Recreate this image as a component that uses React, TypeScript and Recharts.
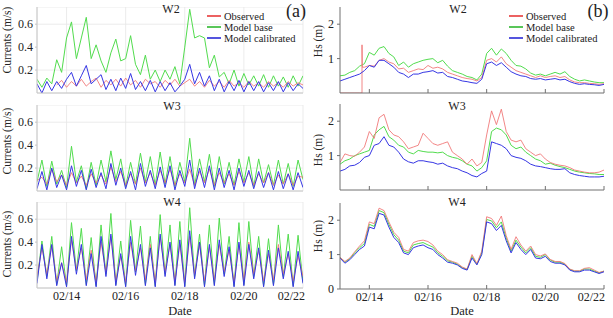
import { LineChart, Line, XAxis, YAxis, CartesianGrid } from "recharts";

const FONT = '"Liberation Serif", "DejaVu Serif", serif';

// samples every 4 hours, 02/13 00:00 -> 02/22 00:00
const STEP_DAYS = 4 / 24;
const dateTicks = [14, 16, 18, 20, 22];
const currentTicks = [0.2, 0.4, 0.6];
const hsTicks = [0, 1, 2];
const seriesNames = ["Observed", "Model base", "Model calibrated"];

// ---- currents (m/s) ----
const curW2Obs = [null, null, null, null, 0.07, 0.11, 0.05, 0.10, 0.06, 0.12,
  0.06, 0.10, 0.13, 0.05, 0.11, 0.07, 0.12, 0.06, 0.13, 0.07,
  0.11, 0.05, 0.12, 0.08, 0.10, 0.05, 0.11, 0.07, 0.12, 0.06,
  0.09, 0.12, 0.06, 0.10, 0.05, 0.11, 0.06, 0.10, 0.05, 0.11,
  0.06, 0.09, 0.05, 0.10, 0.06, 0.09, 0.05, 0.10, 0.06, 0.09,
  0.05, 0.10, 0.06, 0.09, 0.07];
const curW2Base = [0.12, 0.05, 0.13, 0.08, 0.29, 0.18, 0.48, 0.62, 0.30, 0.48,
  0.66, 0.30, 0.42, 0.28, 0.18, 0.35, 0.47, 0.28, 0.30, 0.50,
  0.25, 0.16, 0.33, 0.12, 0.20, 0.10, 0.20, 0.12, 0.23, 0.08,
  0.40, 0.73, 0.48, 0.50, 0.48, 0.22, 0.33, 0.14, 0.18, 0.08,
  0.20, 0.06, 0.17, 0.07, 0.15, 0.06, 0.16, 0.05, 0.15, 0.06,
  0.14, 0.05, 0.15, 0.06, 0.15];
const curW2Cal = [0.08, 0.00, 0.10, 0.02, 0.10, 0.04, 0.12, 0.18, 0.06, 0.15,
  0.24, 0.08, 0.12, 0.16, 0.03, 0.12, 0.02, 0.13, 0.04, 0.17,
  0.03, 0.10, 0.02, 0.11, 0.01, 0.10, 0.02, 0.09, 0.01, 0.06,
  0.12, 0.25, 0.08, 0.18, 0.06, 0.15, 0.02, 0.12, 0.01, 0.10,
  0.02, 0.11, 0.01, 0.10, 0.02, 0.10, 0.01, 0.09, 0.02, 0.10,
  0.01, 0.09, 0.02, 0.08, 0.04];

const curW3Obs = [0.09, 0.12, 0.06, 0.19, 0.08, 0.14, 0.05, 0.16, 0.07, 0.13,
  0.05, 0.15, 0.07, 0.14, 0.06, 0.21, 0.08, 0.17, 0.05, 0.15,
  0.06, 0.20, 0.07, 0.16, 0.05, 0.18, 0.07, 0.19, 0.05, 0.15,
  0.07, 0.19, 0.05, 0.17, 0.07, 0.19, 0.05, 0.16, 0.07, 0.15,
  0.05, 0.17, 0.07, 0.16, 0.05, 0.15, 0.07, 0.16, 0.05, 0.14,
  0.06, 0.15, 0.05, 0.13, 0.12];
const curW3Base = [0.08, 0.27, 0.04, 0.26, 0.06, 0.18, 0.03, 0.39, 0.08, 0.22,
  0.02, 0.25, 0.05, 0.27, 0.08, 0.35, 0.10, 0.28, 0.04, 0.25,
  0.06, 0.33, 0.08, 0.30, 0.05, 0.34, 0.06, 0.30, 0.04, 0.25,
  0.08, 0.46, 0.05, 0.28, 0.08, 0.32, 0.04, 0.30, 0.06, 0.25,
  0.05, 0.28, 0.08, 0.30, 0.04, 0.28, 0.07, 0.23, 0.05, 0.27,
  0.06, 0.24, 0.04, 0.27, 0.10];
const curW3Cal = [0.02, 0.17, 0.01, 0.20, 0.03, 0.14, 0.01, 0.22, 0.04, 0.18,
  0.01, 0.19, 0.03, 0.16, 0.02, 0.24, 0.05, 0.20, 0.02, 0.17,
  0.01, 0.24, 0.04, 0.18, 0.02, 0.21, 0.03, 0.22, 0.01, 0.18,
  0.04, 0.27, 0.02, 0.20, 0.03, 0.22, 0.01, 0.20, 0.03, 0.18,
  0.01, 0.20, 0.04, 0.18, 0.02, 0.17, 0.03, 0.16, 0.01, 0.17,
  0.02, 0.15, 0.01, 0.16, 0.03];

const curW4Obs = [0.10, 0.35, 0.12, 0.37, 0.06, 0.22, 0.05, 0.42, 0.16, 0.35,
  0.07, 0.33, 0.05, 0.40, 0.14, 0.45, 0.06, 0.28, 0.05, 0.40,
  0.15, 0.35, 0.07, 0.38, 0.05, 0.45, 0.14, 0.38, 0.06, 0.38,
  0.05, 0.45, 0.12, 0.38, 0.06, 0.36, 0.07, 0.38, 0.14, 0.33,
  0.05, 0.38, 0.07, 0.40, 0.12, 0.33, 0.06, 0.30, 0.07, 0.38,
  0.12, 0.30, 0.06, 0.28, 0.10];
const curW4Base = [0.06, 0.41, 0.10, 0.45, 0.03, 0.36, 0.02, 0.57, 0.15, 0.52,
  0.03, 0.44, 0.02, 0.55, 0.12, 0.65, 0.03, 0.41, 0.02, 0.59,
  0.14, 0.54, 0.03, 0.45, 0.02, 0.64, 0.12, 0.55, 0.03, 0.58,
  0.02, 0.70, 0.10, 0.47, 0.02, 0.55, 0.03, 0.61, 0.12, 0.45,
  0.02, 0.57, 0.03, 0.58, 0.10, 0.45, 0.02, 0.43, 0.03, 0.55,
  0.10, 0.47, 0.02, 0.46, 0.05];
const curW4Cal = [0.04, 0.38, 0.08, 0.38, 0.02, 0.22, 0.01, 0.45, 0.12, 0.38,
  0.02, 0.30, 0.01, 0.45, 0.10, 0.47, 0.02, 0.30, 0.01, 0.45,
  0.11, 0.38, 0.02, 0.35, 0.01, 0.47, 0.10, 0.40, 0.02, 0.42,
  0.01, 0.50, 0.08, 0.40, 0.01, 0.38, 0.02, 0.42, 0.10, 0.36,
  0.01, 0.40, 0.02, 0.38, 0.08, 0.35, 0.01, 0.33, 0.02, 0.35,
  0.08, 0.32, 0.01, 0.32, 0.04];

// ---- significant wave height Hs (m) ----
const hsW2Obs = [0, 0, 0, 0, 0, 0.75, 0.80, 0.78, 0.95, 1.00,
  0.90, 0.85, 0.70, 0.72, 0.60, 0.65, 0.70, 0.68, 0.80, 0.72,
  0.75, 0.70, 0.60, 0.55, 0.50, 0.45, 0.42, 0.40, 0.35, 0.45,
  0.95, 1.00, 0.90, 1.05, 0.85, 0.75, 0.65, 0.60, 0.55, 0.50,
  0.45, 0.50, 0.45, 0.48, 0.50, 0.45, 0.48, 0.38, 0.32, 0.30,
  0.30, 0.28, 0.27, 0.25, 0.27];
// gauge switching on: [day, Hs]
const hsW2ObsSpike = [[13.75, 0], [13.75, 1.4], [13.76, 0.75]];
const hsW2Base = [0.50, 0.52, 0.60, 0.65, 0.78, 0.85, 1.18, 1.10, 1.30, 1.35,
  1.15, 1.05, 0.80, 0.90, 0.75, 0.85, 0.90, 0.95, 0.98, 1.00,
  0.88, 0.95, 0.78, 0.65, 0.60, 0.55, 0.48, 0.45, 0.38, 0.55,
  1.15, 1.30, 1.10, 1.28, 1.15, 0.95, 0.80, 0.78, 0.70, 0.58,
  0.52, 0.55, 0.50, 0.55, 0.60, 0.55, 0.62, 0.48, 0.40, 0.35,
  0.38, 0.35, 0.32, 0.30, 0.30];
const hsW2Cal = [0.35, 0.40, 0.45, 0.50, 0.55, 0.65, 0.80, 0.75, 0.95, 0.95,
  0.85, 0.75, 0.60, 0.55, 0.45, 0.55, 0.55, 0.60, 0.62, 0.65,
  0.58, 0.60, 0.48, 0.45, 0.40, 0.35, 0.33, 0.30, 0.28, 0.40,
  0.85, 0.90, 0.80, 0.88, 0.75, 0.62, 0.55, 0.50, 0.48, 0.42,
  0.40, 0.42, 0.38, 0.40, 0.42, 0.38, 0.40, 0.33, 0.28, 0.25,
  0.27, 0.25, 0.24, 0.22, 0.25];

const hsW3Obs = [0.80, 1.05, 1.00, 0.98, 1.10, 1.25, 1.70, 1.50, 2.10, 2.20,
  1.75, 1.60, 1.55, 1.40, 1.20, 1.25, 1.30, 1.65, 1.50, 1.35,
  1.30, 1.35, 1.40, 1.10, 1.00, 0.90, 0.75, 0.90, 0.70, 0.80,
  1.60, 2.30, 1.90, 2.35, 1.70, 1.45, 1.40, 1.45, 1.20, 1.10,
  1.00, 1.05, 0.90, 0.80, 0.75, 0.72, 0.70, 0.65, 0.58, 0.55,
  0.52, 0.50, 0.50, 0.52, 0.58];
const hsW3Base = [0.75, 0.85, 0.90, 1.00, 1.05, 1.10, 1.15, 1.60, 1.75, 1.85,
  1.55, 1.45, 1.30, 1.25, 1.10, 1.05, 1.15, 1.12, 1.10, 1.10,
  1.08, 1.10, 1.00, 0.95, 0.92, 0.85, 0.75, 0.70, 0.55, 0.65,
  0.85, 1.70, 1.80, 1.75, 1.60, 1.30, 1.20, 1.25, 1.10, 1.00,
  0.90, 0.85, 0.75, 0.78, 0.72, 0.68, 0.65, 0.60, 0.55, 0.52,
  0.50, 0.48, 0.47, 0.45, 0.45];
const hsW3Cal = [0.55, 0.60, 0.70, 0.72, 0.80, 0.95, 1.00, 1.30, 1.35, 1.55,
  1.30, 1.25, 1.10, 0.90, 0.82, 0.78, 0.85, 0.85, 0.82, 0.80,
  0.75, 0.78, 0.70, 0.65, 0.62, 0.55, 0.50, 0.42, 0.38, 0.48,
  0.55, 1.40, 1.35, 1.30, 1.20, 1.00, 0.95, 0.92, 0.85, 0.75,
  0.70, 0.68, 0.65, 0.62, 0.60, 0.60, 0.62, 0.50, 0.45, 0.42,
  0.40, 0.38, 0.38, 0.38, 0.40];

const hsW4Obs = [0.92, 0.80, 0.90, 1.08, 1.25, 1.40, 1.95, 1.90, 2.35, 2.28,
  1.95, 1.65, 1.50, 1.15, 1.10, 1.35, 1.40, 1.42, 1.38, 1.28,
  1.10, 1.00, 0.85, 0.80, 0.75, 0.64, 0.58, 1.00, 0.74, 1.10,
  2.10, 2.05, 1.85, 2.12, 1.55, 1.15, 1.52, 1.28, 1.10, 1.25,
  1.00, 0.96, 1.02, 0.86, 0.80, 0.80, 0.74, 0.58, 0.53, 0.53,
  0.60, 0.62, 0.55, 0.48, 0.52];
const hsW4Base = [0.92, 0.78, 0.88, 1.05, 1.20, 1.32, 1.88, 1.82, 2.28, 2.22,
  1.88, 1.58, 1.42, 1.10, 1.05, 1.28, 1.32, 1.35, 1.28, 1.22,
  1.05, 0.95, 0.82, 0.78, 0.72, 0.62, 0.57, 0.95, 0.72, 1.05,
  2.02, 1.98, 1.78, 1.95, 1.48, 1.10, 1.42, 1.22, 1.05, 1.20,
  0.95, 0.92, 1.00, 0.84, 0.78, 0.78, 0.72, 0.57, 0.52, 0.52,
  0.58, 0.58, 0.52, 0.47, 0.52];
const hsW4Cal = [0.90, 0.75, 0.85, 1.00, 1.15, 1.25, 1.80, 1.75, 2.20, 2.15,
  1.80, 1.50, 1.35, 1.05, 1.00, 1.20, 1.25, 1.28, 1.20, 1.15,
  1.00, 0.90, 0.78, 0.75, 0.70, 0.60, 0.55, 0.90, 0.70, 1.00,
  1.95, 1.90, 1.70, 1.85, 1.40, 1.05, 1.35, 1.15, 1.00, 1.15,
  0.90, 0.88, 0.95, 0.80, 0.75, 0.75, 0.70, 0.55, 0.50, 0.50,
  0.55, 0.55, 0.50, 0.45, 0.50];

type Row = { t: number; obs?: number | null; base?: number; cal?: number };

const buildRows = (obs: (number | null)[], base: number[], cal: number[]): Row[] =>
  base.map((b, i) => ({
    t: Math.round((13 + i * STEP_DAYS) * 1000) / 1000,
    obs: obs[i],
    base: b,
    cal: cal[i],
  }));

const hsW2Rows = (() => {
  const rows = buildRows(hsW2Obs, hsW2Base, hsW2Cal);
  const spike = hsW2ObsSpike.map(([t, v]) => ({ t, obs: v }));
  return [...rows.slice(0, 5), ...spike, ...rows.slice(5)];
})();

const COLORS = { obs: "#f07272", base: "#52dc4e", cal: "#3636e4" };
const KEY_COLORS = ["#e83a3a", "#2fb82f", "#2a2ad6"];
const PLOT_H = 86;

type PanelProps = {
  rows: Row[];
  left: number;
  top: number;
  hs?: boolean;
  dates?: boolean;
};

function Panel({ rows, left, top, hs = false, dates = false }: PanelProps) {
  const xh = dates ? 30 : 4;
  const axisColor = hs ? "#707070" : "#c6c6c6";
  const tickStyle = { fill: "#222", fontSize: 12, fontFamily: FONT };
  return (
    <div style={{ position: "absolute", left, top }}>
      <LineChart
        width={hs ? 300 : 305}
        height={PLOT_H + xh}
        data={rows}
        margin={{ top: 0, right: hs ? 1 : 2, bottom: 0, left: 0 }}
      >
        {!hs && <CartesianGrid stroke="#e6e6e6" strokeWidth={0.8} />}
        <XAxis
          dataKey="t"
          type="number"
          domain={[13, 22]}
          allowDataOverflow
          ticks={dateTicks}
          height={xh}
          stroke={axisColor}
          tickSize={hs ? -4 : 0}
          tickMargin={hs ? 7 : 3}
          tick={tickStyle}
          tickFormatter={(v: number) => (dates ? `02/${v}` : "")}
        />
        <YAxis
          type="number"
          domain={hs ? [0, 2.5] : [0, 0.75]}
          allowDataOverflow
          ticks={hs ? hsTicks : currentTicks}
          width={hs ? 35 : 37}
          stroke={axisColor}
          tickSize={hs ? 3 : 2}
          tickMargin={hs ? 3 : 2}
          tick={tickStyle}
          tickFormatter={(v: number) => (hs ? String(v) : v.toFixed(1))}
        />
        <Line dataKey="base" stroke={COLORS.base} strokeWidth={1} dot={false} connectNulls isAnimationActive={false} />
        <Line dataKey="obs" stroke={COLORS.obs} strokeWidth={1} strokeOpacity={0.85} dot={false} connectNulls isAnimationActive={false} />
        <Line dataKey="cal" stroke={COLORS.cal} strokeWidth={1} dot={false} connectNulls isAnimationActive={false} />
      </LineChart>
    </div>
  );
}

function Key({ x, y }: { x: number; y: number }) {
  return (
    <g>
      {seriesNames.map((name, k) => (
        <g key={name}>
          <line x1={x} x2={x + 14} y1={y + k * 11} y2={y + k * 11} stroke={KEY_COLORS[k]} strokeWidth={1.6} />
          <text x={x + 17} y={y + k * 11 + 3.5} fontSize={10.5}>
            {name}
          </text>
        </g>
      ))}
    </g>
  );
}

function VLabel({ x, y, text }: { x: number; y: number; text: string }) {
  return (
    <text transform={`translate(${x},${y}) rotate(-90)`} textAnchor="middle" dominantBaseline="central" fontSize={11.5}>
      {text}
    </text>
  );
}

export default function App() {
  return (
    <div
      style={{
        position: "absolute",
        left: 0,
        top: 0,
        width: 613,
        height: 318,
        overflow: "hidden",
        background: "#fff",
        fontFamily: FONT,
      }}
    >
      <Panel rows={buildRows(curW2Obs, curW2Base, curW2Cal)} left={0} top={7} />
      <Panel rows={buildRows(curW3Obs, curW3Base, curW3Cal)} left={0} top={105} />
      <Panel rows={buildRows(curW4Obs, curW4Base, curW4Cal)} left={0} top={202} dates />
      <Panel rows={hsW2Rows} left={305} top={7} hs />
      <Panel rows={buildRows(hsW3Obs, hsW3Base, hsW3Cal)} left={305} top={104} hs />
      <Panel rows={buildRows(hsW4Obs, hsW4Base, hsW4Cal)} left={305} top={203} hs dates />

      <svg
        width={613}
        height={318}
        style={{ position: "absolute", left: 0, top: 0, pointerEvents: "none" }}
        fontFamily={FONT}
        fill="#222"
      >
        <text x={171} y={13} fontSize={12} textAnchor="middle">W2</text>
        <text x={172} y={110} fontSize={12} textAnchor="middle">W3</text>
        <text x={172} y={206} fontSize={12} textAnchor="middle">W4</text>
        <text x={458} y={13} fontSize={12} textAnchor="middle">W2</text>
        <text x={457} y={110} fontSize={12} textAnchor="middle">W3</text>
        <text x={457} y={206} fontSize={12} textAnchor="middle">W4</text>

        <text x={296} y={17} fontSize={18} textAnchor="middle">(a)</text>
        <text x={598} y={17} fontSize={18} textAnchor="middle">(b)</text>

        <Key x={207} y={16} />
        <Key x={509} y={16} />

        <VLabel x={7} y={40} text="Currents (m/s)" />
        <VLabel x={7} y={141} text="Currents (m/s)" />
        <VLabel x={7} y={244} text="Currents (m/s)" />
        <VLabel x={318} y={41} text="Hs (m)" />
        <VLabel x={318} y={150} text="Hs (m)" />
        <VLabel x={318} y={236} text="Hs (m)" />

        <text x={180} y={314.5} fontSize={12.5} textAnchor="middle">Date</text>
        <text x={462} y={314.5} fontSize={12.5} textAnchor="middle">Date</text>
      </svg>
    </div>
  );
}
